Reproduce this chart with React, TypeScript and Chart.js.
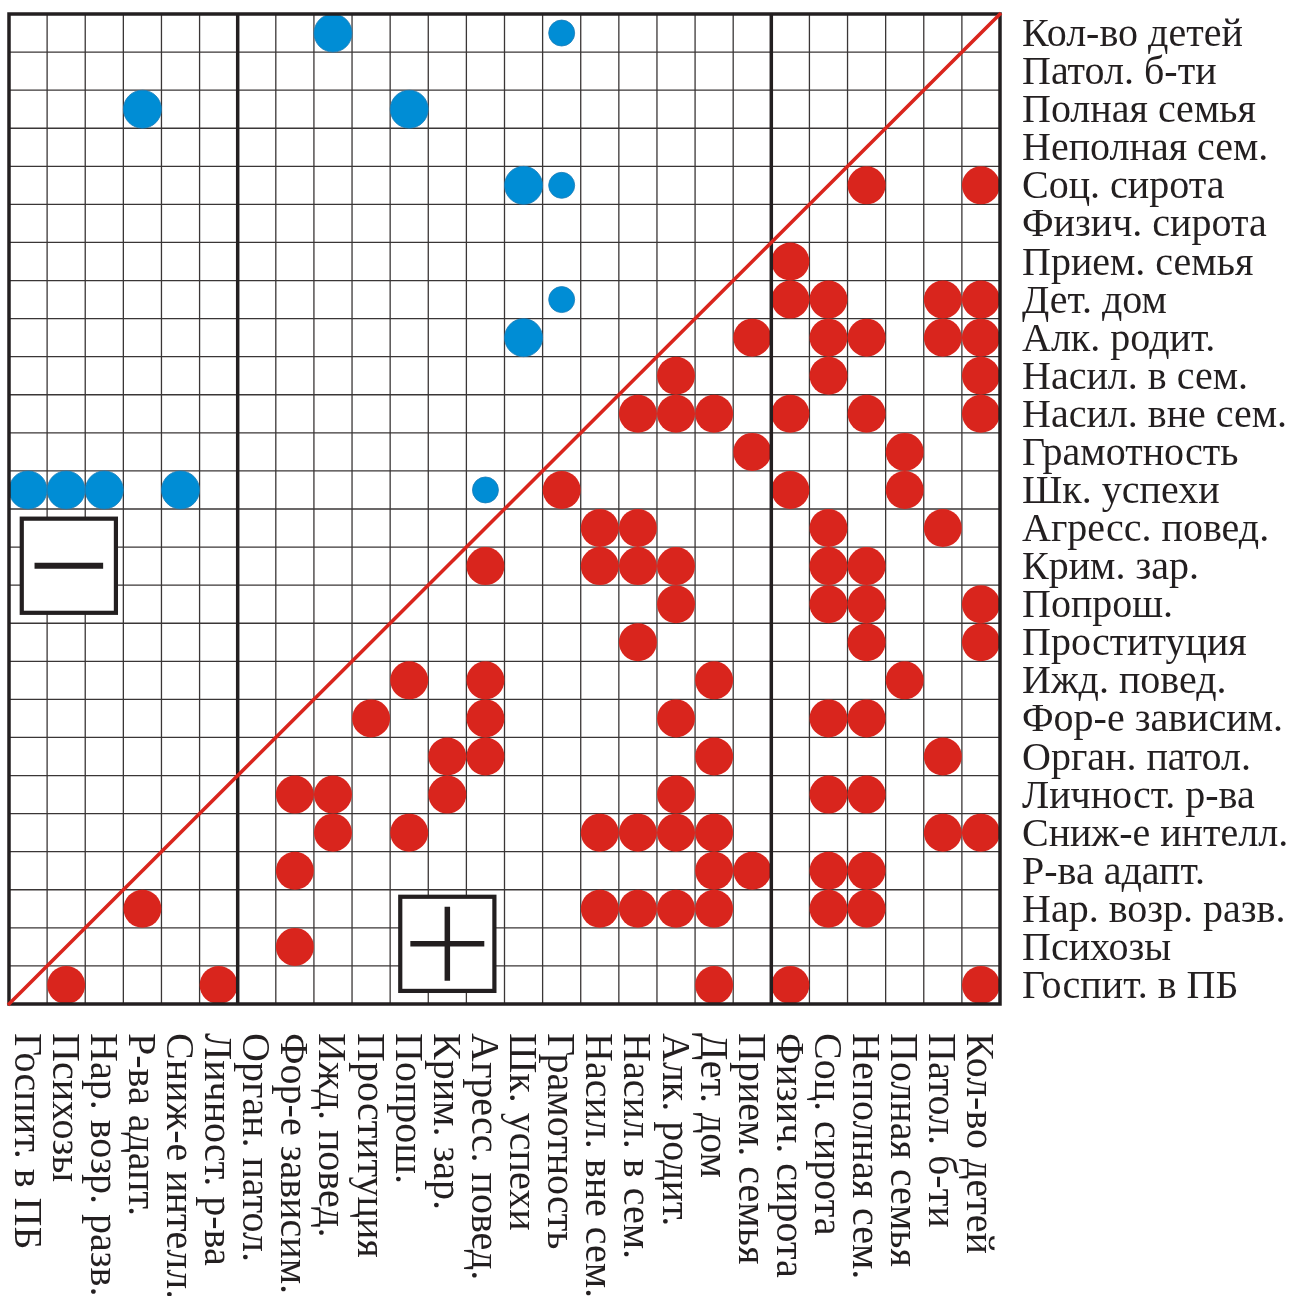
import { useEffect, useRef } from 'react';
import { Chart, registerables } from 'chart.js';

Chart.register(...registerables);

// Variables: rows are listed top → bottom; columns are the same list, left → right reversed
const variables: string[] = [
  'Кол-во детей',
  'Патол. б-ти',
  'Полная семья',
  'Неполная сем.',
  'Соц. сирота',
  'Физич. сирота',
  'Прием. семья',
  'Дет. дом',
  'Алк. родит.',
  'Насил. в сем.',
  'Насил. вне сем.',
  'Грамотность',
  'Шк. успехи',
  'Агресс. повед.',
  'Крим. зар.',
  'Попрош.',
  'Проституция',
  'Ижд. повед.',
  'Фор-е зависим.',
  'Орган. патол.',
  'Личност. р-ва',
  'Сниж-е интелл.',
  'Р-ва адапт.',
  'Нар. возр. разв.',
  'Психозы',
  'Госпит. в ПБ',
];
const rowLabels: string[] = variables;
const colLabels: string[] = [...variables].reverse();

// Positive links (red), [row, column]
const positiveLinks: [string, string][] = [
  ['Соц. сирота', 'Неполная сем.'], ['Соц. сирота', 'Кол-во детей'],
  ['Прием. семья', 'Физич. сирота'],
  ['Дет. дом', 'Физич. сирота'], ['Дет. дом', 'Соц. сирота'], ['Дет. дом', 'Патол. б-ти'], ['Дет. дом', 'Кол-во детей'],
  ['Алк. родит.', 'Прием. семья'], ['Алк. родит.', 'Соц. сирота'], ['Алк. родит.', 'Неполная сем.'], ['Алк. родит.', 'Патол. б-ти'], ['Алк. родит.', 'Кол-во детей'],
  ['Насил. в сем.', 'Алк. родит.'], ['Насил. в сем.', 'Соц. сирота'], ['Насил. в сем.', 'Кол-во детей'],
  ['Насил. вне сем.', 'Насил. в сем.'], ['Насил. вне сем.', 'Алк. родит.'], ['Насил. вне сем.', 'Дет. дом'], ['Насил. вне сем.', 'Физич. сирота'], ['Насил. вне сем.', 'Неполная сем.'], ['Насил. вне сем.', 'Кол-во детей'],
  ['Грамотность', 'Прием. семья'], ['Грамотность', 'Полная семья'],
  ['Шк. успехи', 'Грамотность'], ['Шк. успехи', 'Физич. сирота'], ['Шк. успехи', 'Полная семья'],
  ['Агресс. повед.', 'Насил. вне сем.'], ['Агресс. повед.', 'Насил. в сем.'], ['Агресс. повед.', 'Соц. сирота'], ['Агресс. повед.', 'Патол. б-ти'],
  ['Крим. зар.', 'Агресс. повед.'], ['Крим. зар.', 'Насил. вне сем.'], ['Крим. зар.', 'Насил. в сем.'], ['Крим. зар.', 'Алк. родит.'], ['Крим. зар.', 'Соц. сирота'], ['Крим. зар.', 'Неполная сем.'],
  ['Попрош.', 'Алк. родит.'], ['Попрош.', 'Соц. сирота'], ['Попрош.', 'Неполная сем.'], ['Попрош.', 'Кол-во детей'],
  ['Проституция', 'Насил. в сем.'], ['Проституция', 'Неполная сем.'], ['Проституция', 'Кол-во детей'],
  ['Ижд. повед.', 'Попрош.'], ['Ижд. повед.', 'Агресс. повед.'], ['Ижд. повед.', 'Дет. дом'], ['Ижд. повед.', 'Полная семья'],
  ['Фор-е зависим.', 'Проституция'], ['Фор-е зависим.', 'Агресс. повед.'], ['Фор-е зависим.', 'Алк. родит.'], ['Фор-е зависим.', 'Соц. сирота'], ['Фор-е зависим.', 'Неполная сем.'],
  ['Орган. патол.', 'Крим. зар.'], ['Орган. патол.', 'Агресс. повед.'], ['Орган. патол.', 'Дет. дом'], ['Орган. патол.', 'Патол. б-ти'],
  ['Личност. р-ва', 'Фор-е зависим.'], ['Личност. р-ва', 'Ижд. повед.'], ['Личност. р-ва', 'Крим. зар.'], ['Личност. р-ва', 'Алк. родит.'], ['Личност. р-ва', 'Соц. сирота'], ['Личност. р-ва', 'Неполная сем.'],
  ['Сниж-е интелл.', 'Ижд. повед.'], ['Сниж-е интелл.', 'Попрош.'], ['Сниж-е интелл.', 'Насил. вне сем.'], ['Сниж-е интелл.', 'Насил. в сем.'], ['Сниж-е интелл.', 'Алк. родит.'], ['Сниж-е интелл.', 'Дет. дом'], ['Сниж-е интелл.', 'Патол. б-ти'], ['Сниж-е интелл.', 'Кол-во детей'],
  ['Р-ва адапт.', 'Фор-е зависим.'], ['Р-ва адапт.', 'Дет. дом'], ['Р-ва адапт.', 'Прием. семья'], ['Р-ва адапт.', 'Соц. сирота'], ['Р-ва адапт.', 'Неполная сем.'],
  ['Нар. возр. разв.', 'Р-ва адапт.'], ['Нар. возр. разв.', 'Насил. вне сем.'], ['Нар. возр. разв.', 'Насил. в сем.'], ['Нар. возр. разв.', 'Алк. родит.'], ['Нар. возр. разв.', 'Дет. дом'], ['Нар. возр. разв.', 'Соц. сирота'], ['Нар. возр. разв.', 'Неполная сем.'],
  ['Психозы', 'Фор-е зависим.'],
  ['Госпит. в ПБ', 'Психозы'], ['Госпит. в ПБ', 'Личност. р-ва'], ['Госпит. в ПБ', 'Дет. дом'], ['Госпит. в ПБ', 'Физич. сирота'], ['Госпит. в ПБ', 'Кол-во детей'],
];

// Negative links (blue), strong (large dot) and weak (small dot), [row, column]
const negativeStrongLinks: [string, string][] = [
  ['Кол-во детей', 'Ижд. повед.'],
  ['Полная семья', 'Р-ва адапт.'], ['Полная семья', 'Попрош.'],
  ['Соц. сирота', 'Шк. успехи'],
  ['Алк. родит.', 'Шк. успехи'],
  ['Шк. успехи', 'Госпит. в ПБ'], ['Шк. успехи', 'Психозы'], ['Шк. успехи', 'Нар. возр. разв.'], ['Шк. успехи', 'Сниж-е интелл.'],
];
const negativeWeakLinks: [string, string][] = [
  ['Кол-во детей', 'Грамотность'],
  ['Соц. сирота', 'Грамотность'],
  ['Дет. дом', 'Грамотность'],
  ['Шк. успехи', 'Агресс. повед.'],
];

// Thick separators on the right edge of these columns
const separatorAfter: string[] = ['Личност. р-ва', 'Прием. семья'];

// Sign boxes (in cell units)
const signBoxes = [
  { sign: '-', col: 1.57, row: 14.49 },
  { sign: '+', col: 11.5, row: 24.42 },
];

const RED = '#d9251d';
const BLUE = '#008dd5';
const INK = '#231f20';
const FONT = '40px "Liberation Serif", "Times New Roman", serif';

const toPoint = ([r, c]: [string, string]) => ({
  x: colLabels.indexOf(c) + 0.5,
  y: rowLabels.indexOf(r) + 0.5,
});

const decorPlugin = {
  id: 'matrixDecor',
  beforeDatasetsDraw(chart: any) {
    const { ctx, chartArea: a, scales } = chart;
    const xs = scales.x;
    const ys = scales.y;
    ctx.save();
    ctx.strokeStyle = '#3a3636';
    ctx.lineWidth = 1.3;
    for (let i = 1; i < colLabels.length; i++) {
      const px = xs.getPixelForValue(i);
      ctx.beginPath();
      ctx.moveTo(px, a.top);
      ctx.lineTo(px, a.bottom);
      ctx.stroke();
    }
    for (let j = 1; j < rowLabels.length; j++) {
      const py = ys.getPixelForValue(j);
      ctx.beginPath();
      ctx.moveTo(a.left, py);
      ctx.lineTo(a.right, py);
      ctx.stroke();
    }
    ctx.restore();
  },
  afterDatasetsDraw(chart: any) {
    const { ctx, chartArea: a, scales } = chart;
    const xs = scales.x;
    const ys = scales.y;
    ctx.save();
    // separators
    ctx.strokeStyle = INK;
    ctx.lineWidth = 3.5;
    separatorAfter.forEach((name) => {
      const px = xs.getPixelForValue(colLabels.indexOf(name) + 1);
      ctx.beginPath();
      ctx.moveTo(px, a.top);
      ctx.lineTo(px, a.bottom);
      ctx.stroke();
    });
    // border
    ctx.lineWidth = 3.5;
    ctx.strokeRect(a.left, a.top, a.right - a.left, a.bottom - a.top);

    // sign boxes
    const unit = xs.getPixelForValue(1) - xs.getPixelForValue(0);
    signBoxes.forEach((b) => {
      const cx = xs.getPixelForValue(b.col);
      const cy = ys.getPixelForValue(b.row);
      const half = unit * 1.235;
      ctx.fillStyle = '#ffffff';
      ctx.fillRect(cx - half, cy - half, half * 2, half * 2);
      ctx.strokeStyle = INK;
      ctx.lineWidth = 4.2;
      ctx.strokeRect(cx - half, cy - half, half * 2, half * 2);
      ctx.lineWidth = b.sign === '-' ? 6 : 5.5;
      const barHalf = unit * (b.sign === '-' ? 0.9 : 0.97);
      ctx.beginPath();
      ctx.moveTo(cx - barHalf, cy);
      ctx.lineTo(cx + barHalf, cy);
      if (b.sign === '+') {
        ctx.moveTo(cx, cy - barHalf);
        ctx.lineTo(cx, cy + barHalf);
      }
      ctx.stroke();
    });

    // diagonal
    ctx.strokeStyle = RED;
    ctx.lineWidth = 3.6;
    ctx.beginPath();
    ctx.moveTo(xs.getPixelForValue(0) - 1, ys.getPixelForValue(26) + 1);
    ctx.lineTo(xs.getPixelForValue(26) + 1, ys.getPixelForValue(0) - 1);
    ctx.stroke();
    ctx.restore();
  },
  afterDraw(chart: any) {
    const { ctx, scales } = chart;
    const xs = scales.x;
    const ys = scales.y;
    ctx.save();
    ctx.fillStyle = INK;
    ctx.font = FONT;
    ctx.textBaseline = 'alphabetic';
    ctx.textAlign = 'left';
    rowLabels.forEach((lab, i) => {
      const py = ys.getPixelForValue(i + 0.5);
      ctx.fillText(lab, 1022, py + 13);
    });
    colLabels.forEach((lab, i) => {
      const px = xs.getPixelForValue(i + 0.5);
      ctx.save();
      ctx.translate(px - 13.5, 1033);
      ctx.rotate(Math.PI / 2);
      ctx.fillText(lab, 0, 0);
      ctx.restore();
    });
    ctx.restore();
  },
};

export default function App() {
  const ref = useRef<HTMLCanvasElement | null>(null);
  useEffect(() => {
    if (!ref.current) return;
    const chart = new Chart(ref.current, {
      type: 'scatter',
      data: {
        datasets: [
          {
            label: 'Положительная связь',
            data: positiveLinks.map(toPoint),
            backgroundColor: RED,
            borderWidth: 0,
            pointRadius: 19,
          },
          {
            label: 'Отрицательная связь (сильная)',
            data: negativeStrongLinks.map(toPoint),
            backgroundColor: BLUE,
            borderColor: '#1b7cb8',
            borderWidth: 0.8,
            pointRadius: 19,
          },
          {
            label: 'Отрицательная связь (слабая)',
            data: negativeWeakLinks.map(toPoint),
            backgroundColor: BLUE,
            borderColor: '#1b7cb8',
            borderWidth: 0.8,
            pointRadius: 13,
          },
        ],
      },
      options: {
        animation: false,
        responsive: true,
        maintainAspectRatio: false,
        events: [],
        layout: { autoPadding: false, padding: { left: 9, top: 14, right: 291, bottom: 292 } },
        scales: {
          x: { type: 'linear', min: 0, max: 26, display: false },
          y: { type: 'linear', min: 0, max: 26, reverse: true, display: false },
        },
        plugins: {
          legend: { display: false },
          tooltip: { enabled: false },
        },
      },
      plugins: [decorPlugin],
    });
    return () => chart.destroy();
  }, []);
  return (
    <div style={{ position: 'fixed', left: 0, top: 0, width: 1291, height: 1296, background: '#fff' }}>
      <canvas ref={ref} />
    </div>
  );
}
